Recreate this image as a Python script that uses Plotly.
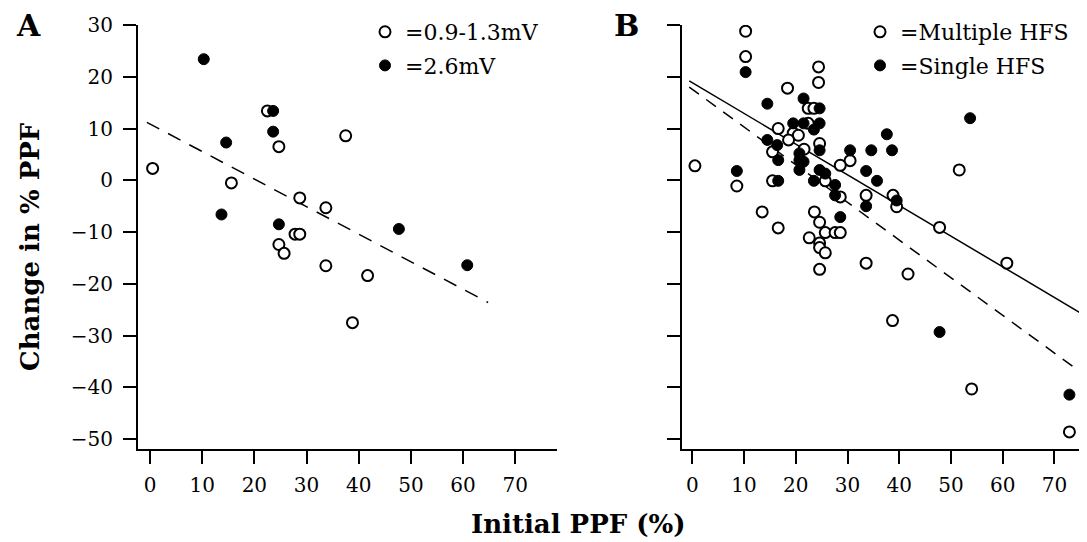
import plotly.graph_objects as go

# ---------------- data ----------------
# Panel A
a_open_x = [0.5, 22.5, 24.7, 37.5, 15.6, 28.7, 33.7, 27.8, 28.7, 24.7, 25.7, 33.7, 41.7, 38.8]
a_open_y = [2.3, 13.4, 6.5, 8.6, -0.5, -3.4, -5.3, -10.4, -10.4, -12.4, -14.1, -16.5, -18.4, -27.5]
a_fill_x = [10.3, 23.6, 23.6, 14.6, 13.7, 24.7, 47.7, 60.8]
a_fill_y = [23.4, 13.4, 9.4, 7.3, -6.6, -8.5, -9.4, -16.4]
a_line_x = [-0.6, 64.8]
a_line_y = [11.2, -23.6]

# Panel B
b_open_x = [10.3, 10.3, 24.4, 24.4, 18.4, 22.4, 23.5, 22.4, 16.6, 19.5, 20.5, 18.6, 24.6, 21.6,
            15.5, 30.5, 28.6, 0.5, 51.6, 8.6, 15.5, 25.7, 28.6, 33.6, 38.8, 39.5, 13.5, 23.6,
            24.6, 16.6, 25.7, 27.6, 28.6, 22.6, 24.6, 24.6, 25.7, 24.6, 33.6, 41.7, 47.8, 60.8,
            38.7, 54.0, 72.9]
b_open_y = [28.8, 23.9, 21.9, 18.9, 17.8, 13.9, 13.9, 11.0, 10.0, 9.1, 8.7, 7.8, 7.1, 6.0,
            5.5, 3.8, 2.9, 2.8, 2.0, -1.1, -0.1, -0.1, -3.2, -2.9, -2.9, -5.1, -6.1, -6.1,
            -8.1, -9.2, -10.1, -10.1, -10.1, -11.1, -12.1, -13.0, -14.0, -17.2, -16.0, -18.1,
            -9.1, -16.0, -27.1, -40.3, -48.6]
b_fill_x = [10.3, 14.5, 21.5, 24.6, 19.5, 21.5, 24.6, 23.5, 14.5, 16.4, 24.6, 20.7, 20.7, 21.5,
            16.6, 20.7, 30.5, 34.6, 38.6, 37.6, 53.7, 33.6, 35.7, 24.6, 25.7, 23.5, 27.6, 27.6,
            33.6, 39.5, 16.6, 8.6, 28.6, 47.8, 72.9]
b_fill_y = [20.9, 14.8, 15.8, 13.9, 11.0, 11.0, 11.0, 9.8, 7.8, 6.8, 5.8, 5.2, 3.9, 3.6,
            3.9, 2.0, 5.8, 5.8, 5.8, 8.9, 12.0, 1.8, -0.1, 2.0, 1.3, -0.1, -0.9, -2.9,
            -5.0, -3.9, -0.1, 1.8, -7.1, -29.3, -41.4]
b_solid_x = [-0.6, 75.0]
b_solid_y = [19.2, -25.6]
b_dash_x = [-0.6, 75.0]
b_dash_y = [18.0, -37.0]

x_ticks = [0, 10, 20, 30, 40, 50, 60, 70]
y_ticks = [30, 20, 10, 0, -10, -20, -30, -40, -50]

legend_a = ["=0.9-1.3mV", "=2.6mV"]
legend_b = ["=Multiple HFS", "=Single HFS"]

# ---------------- figure ----------------
# the page body has an 8px margin, so the figure is drawn 8px in from the top-left
OFF = 8
W, H = 1087 - OFF, 542 - OFF
FONT = "DejaVu Serif"

open_marker = dict(symbol="circle", size=11, color="white", line=dict(color="black", width=2))
fill_marker = dict(symbol="circle", size=11, color="black", line=dict(color="black", width=1))

fig = go.Figure()

fig.add_trace(go.Scatter(x=a_line_x, y=a_line_y, mode="lines", xaxis="x", yaxis="y",
                         line=dict(color="black", width=1.5, dash="14px,10px"), showlegend=False))
fig.add_trace(go.Scatter(x=a_open_x, y=a_open_y, mode="markers", xaxis="x", yaxis="y",
                         marker=open_marker, name=legend_a[0], legend="legend", legendgroup="a1"))
fig.add_trace(go.Scatter(x=a_fill_x, y=a_fill_y, mode="markers", xaxis="x", yaxis="y",
                         marker=fill_marker, name=legend_a[1], legend="legend", legendgroup="a2"))

fig.add_trace(go.Scatter(x=b_solid_x, y=b_solid_y, mode="lines", xaxis="x2", yaxis="y2",
                         line=dict(color="black", width=1.5), showlegend=False))
fig.add_trace(go.Scatter(x=b_dash_x, y=b_dash_y, mode="lines", xaxis="x2", yaxis="y2",
                         line=dict(color="black", width=1.5, dash="12px,9px"), showlegend=False))
fig.add_trace(go.Scatter(x=b_open_x, y=b_open_y, mode="markers", xaxis="x2", yaxis="y2",
                         marker=open_marker, name=legend_b[0], legend="legend2", legendgroup="b1"))
fig.add_trace(go.Scatter(x=b_fill_x, y=b_fill_y, mode="markers", xaxis="x2", yaxis="y2",
                         marker=fill_marker, name=legend_b[1], legend="legend2", legendgroup="b2"))

def px_x(p):
    return (p - OFF) / W

def px_y(p):
    return 1 - (p - OFF) / H

axis_common = dict(showline=True, linecolor="black", linewidth=2, ticks="outside",
                   ticklen=13, tickwidth=2, tickcolor="black", showgrid=False, zeroline=False,
                   tickfont=dict(family=FONT, size=20, color="black"), mirror=False,
                   automargin=False)

y_dom = [px_y(449), px_y(25)]
fig.update_layout(
    width=W, height=H,
    margin=dict(l=0, r=0, t=0, b=0, autoexpand=False),
    paper_bgcolor="white", plot_bgcolor="white",
    xaxis=dict(domain=[px_x(138), px_x(557)], range=[-2.3, 78.0], tickvals=x_ticks,
               anchor="y", ticklabelstandoff=4, **axis_common),
    yaxis=dict(domain=y_dom, range=[-51.9, 30], tickvals=y_ticks, anchor="x",
               ticklabelstandoff=6, **axis_common),
    xaxis2=dict(domain=[px_x(682), 1.0], range=[-2.0, 76.3], tickvals=x_ticks,
                anchor="y2", ticklabelstandoff=4, **axis_common),
    yaxis2=dict(domain=y_dom, range=[-51.9, 30], tickvals=y_ticks, anchor="x2",
                showticklabels=False, **axis_common),
    legend=dict(x=px_x(365), y=px_y(11), xanchor="left", yanchor="top",
                bgcolor="rgba(0,0,0,0)", borderwidth=0, tracegroupgap=2,
                font=dict(family=FONT, size=22, color="black")),
    legend2=dict(x=px_x(860), y=px_y(11), xanchor="left", yanchor="top",
                 bgcolor="rgba(0,0,0,0)", borderwidth=0, tracegroupgap=2,
                 font=dict(family=FONT, size=22, color="black")),
)

annotations = [
    dict(text="<b>A</b>", x=px_x(28), y=px_y(26), xanchor="center", yanchor="middle",
         xref="paper", yref="paper", showarrow=False,
         font=dict(family=FONT, size=30, color="black")),
    dict(text="<b>B</b>", x=px_x(626), y=px_y(26), xanchor="center", yanchor="middle",
         xref="paper", yref="paper", showarrow=False,
         font=dict(family=FONT, size=30, color="black")),
    dict(text="<b>Change in % PPF</b>", x=px_x(30), y=px_y(247), xanchor="center",
         yanchor="middle", xref="paper", yref="paper", textangle=-90, showarrow=False,
         font=dict(family=FONT, size=26, color="black")),
    dict(text="<b>Initial PPF (%)</b>", x=px_x(578), y=px_y(524), xanchor="center",
         yanchor="middle", xref="paper", yref="paper", showarrow=False,
         font=dict(family=FONT, size=26, color="black")),
]
fig.update_layout(annotations=annotations)

fig.write_html("out.html")
